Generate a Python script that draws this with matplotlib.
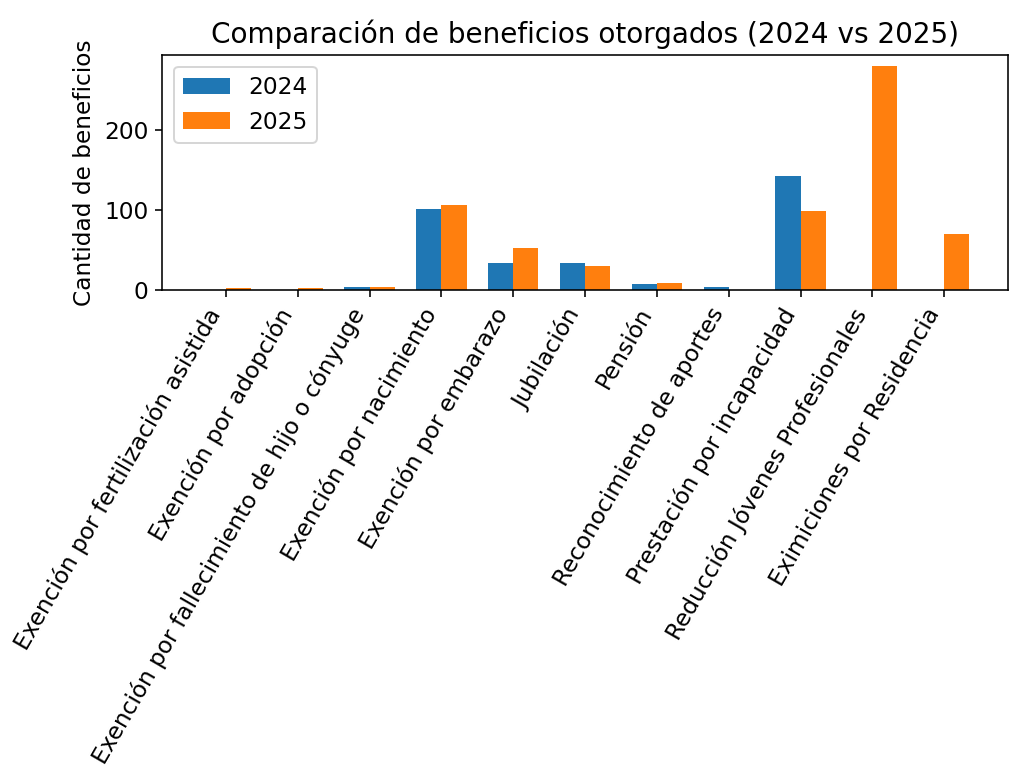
import numpy as np
import matplotlib.pyplot as plt

# Datos
categorias = [
    'Exención por fertilización asistida',
    'Exención por adopción',
    'Exención por fallecimiento de hijo o cónyuge',
    'Exención por nacimiento',
    'Exención por embarazo',
    'Jubilación',
    'Pensión',
    'Reconocimiento de aportes',
    'Prestación por incapacidad',
    'Reducción Jóvenes Profesionales',
    'Eximiciones por Residencia',
]
valores_2024 = [0, 0, 4, 101, 34, 34, 7, 4, 143, 0, 0]
valores_2025 = [2, 2, 4, 107, 52, 30, 9, 0, 99, 280, 70]

plt.rcParams['font.size'] = 11.6

x = np.arange(len(categorias))
ancho = 0.35

fig, ax = plt.subplots(figsize=(1021 / 144, 767 / 144), dpi=144)
fig.subplots_adjust(left=0.159, right=0.987, top=0.928, bottom=0.622)

ax.bar(x - ancho / 2, valores_2024, ancho, label='2024')
ax.bar(x + ancho / 2, valores_2025, ancho, label='2025')

ax.set_ylabel('Cantidad de beneficios')
ax.set_title('Comparación de beneficios otorgados (2024 vs 2025)')
ax.set_xticks(x)
ax.set_xticklabels(categorias, rotation=60, ha='right')
ax.legend(loc='upper left')

fig.savefig('out.png', dpi=144, facecolor='white')
